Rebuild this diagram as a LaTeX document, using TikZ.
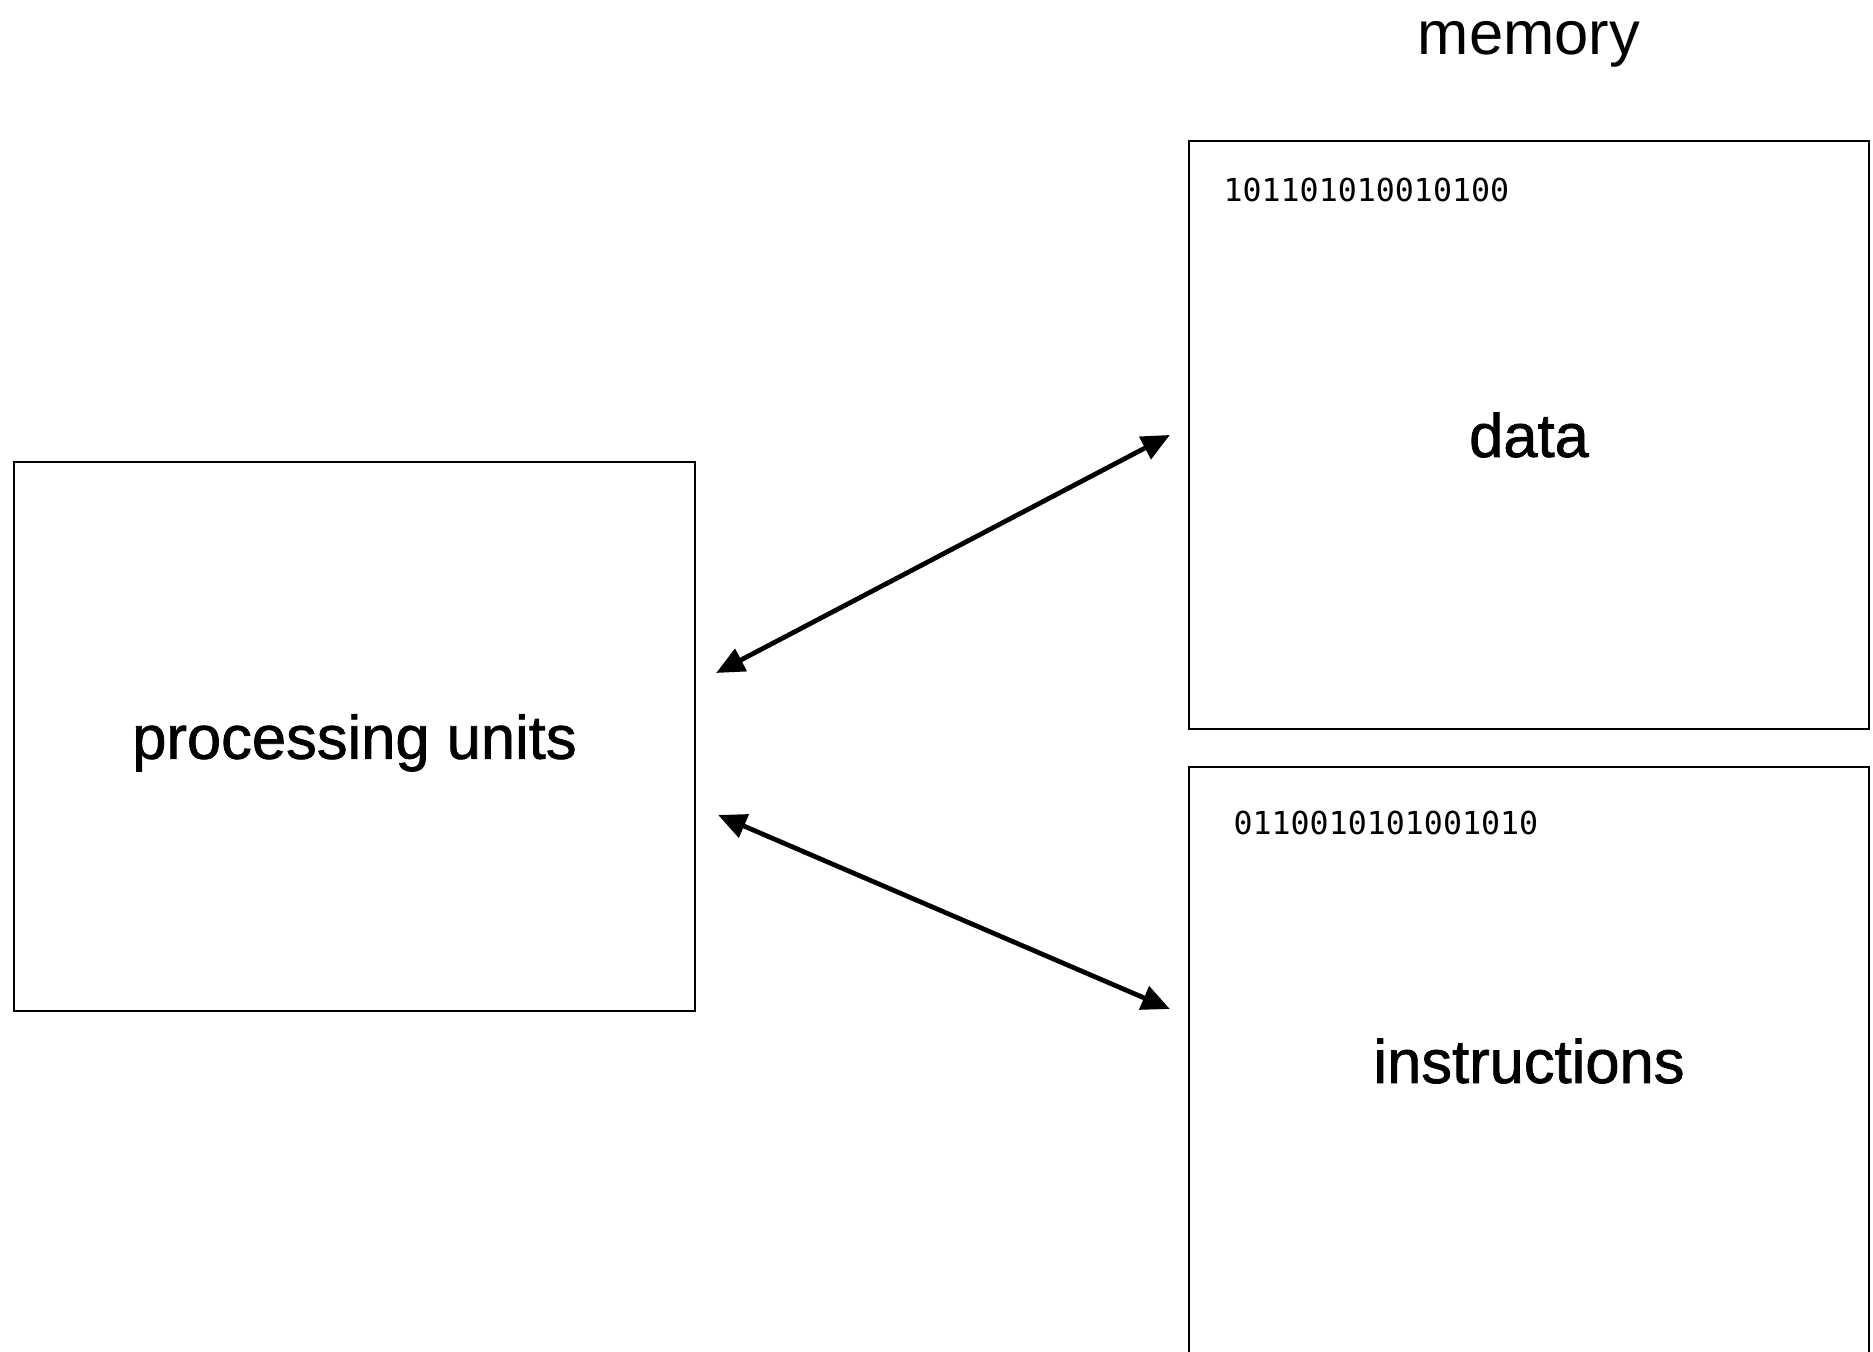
\documentclass[tikz,border=0pt]{standalone}
\usepackage{fontspec}
\setmainfont{Liberation Sans}
\setmonofont{DejaVu Sans Mono}
\newfontfamily\medfont[FakeBold=1.2]{Liberation Sans}
\usepackage{tikz}
\usetikzlibrary{arrows.meta, positioning}

\begin{document}
\begin{tikzpicture}[>={Triangle[length=8pt,width=7pt]},
    unit/.style={draw, line width=0.65pt, minimum width=6.81cm, minimum height=5.49cm,
      font=\medfont\fontsize{17.5}{21}\selectfont},
    store/.style={draw, line width=0.65pt, minimum width=6.80cm, minimum height=5.88cm,
      font=\medfont\fontsize{17.5}{21}\selectfont},
    bits/.style={font=\ttfamily\fontsize{9}{11}\selectfont, anchor=west, inner sep=0pt},
    link/.style={<->, line width=1.35pt}]
  % ---- canvas ----
  \clip (0,0) rectangle (18.73,13.52);

  % ---- processor ----
  \node[unit, text depth=0pt] (proc) at (3.545,6.155) {processing units};

  % ---- memory ----
  \node[store] (data) at (15.29,9.17) {data};
  \node[store] (instr) at (15.29,2.91) {instructions};
  \node[font=\fontsize{17.5}{21}\selectfont] (memory) at (15.29,13.08) {memory};
  \node[bits] (databits) at ([shift={(0.35,-0.50)}]data.north west) {101101010010100};
  \node[bits] (instrbits) at ([shift={(0.45,-0.57)}]instr.north west) {0110010101001010};

  % ---- buses ----
  \draw[link] ([shift={(0.20,0.635)}]proc.east) -- ([xshift=-0.18cm]data.west);
  \draw[link] ([shift={(0.22,-0.785)}]proc.east) -- ([shift={(-0.18,0.52)}]instr.west);
\end{tikzpicture}
\end{document}
